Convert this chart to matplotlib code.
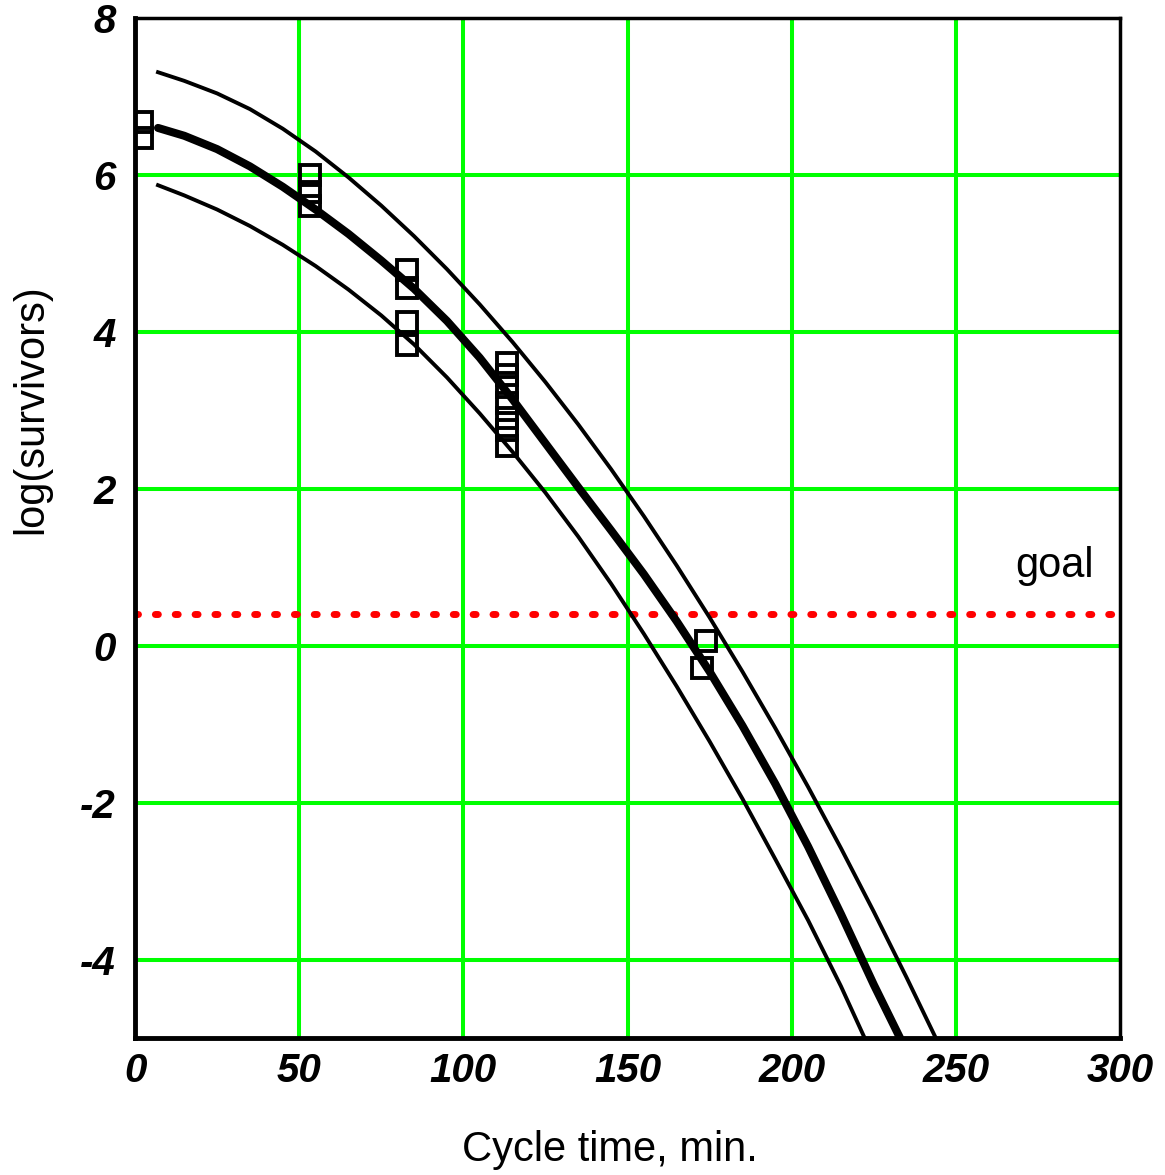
import matplotlib
matplotlib.use("Agg")
import matplotlib.pyplot as plt
from matplotlib import font_manager

# data
# measured survivors (time in min, log survivors)
pointTimes = [2.1, 2.1, 53.3, 53.3, 53.3, 82.9, 82.9, 82.9, 82.9,
              113.3, 113.3, 113.3, 113.3, 113.3, 113.3, 113.3, 174.0, 172.7]
pointLogs = [6.67, 6.47, 6.0, 5.78, 5.6, 4.79, 4.56, 4.13, 3.83,
             3.6, 3.45, 3.3, 3.1, 2.9, 2.75, 2.55, 0.06, -0.29]

# fitted curve
fitTimes = [7, 15, 25, 35, 45, 55, 65, 75, 85, 95, 105, 115, 125, 135, 145,
            155, 165, 175, 185, 195, 205, 215, 225, 233]
fitLogs = [6.6, 6.5, 6.33, 6.11, 5.85, 5.56, 5.25, 4.91, 4.55, 4.14, 3.67,
           3.14, 2.58, 2.02, 1.47, 0.91, 0.31, -0.33, -1.02, -1.76, -2.56,
           -3.42, -4.32, -5.0]

# upper confidence band
upperTimes = [7, 15, 25, 35, 45, 55, 65, 75, 85, 95, 105, 115, 125, 135, 145,
              155, 165, 175, 185, 195, 205, 215, 225, 235, 244]
upperLogs = [7.31, 7.2, 7.04, 6.84, 6.59, 6.3, 5.97, 5.61, 5.22, 4.8, 4.35,
             3.87, 3.36, 2.82, 2.25, 1.65, 1.02, 0.36, -0.33, -1.05, -1.8,
             -2.58, -3.39, -4.23, -5.01]

# lower confidence band
lowerTimes = [7, 15, 25, 35, 45, 55, 65, 75, 85, 95, 105, 115, 125, 135, 145,
              155, 165, 175, 185, 195, 205, 215, 222]
lowerLogs = [5.87, 5.74, 5.56, 5.35, 5.11, 4.84, 4.54, 4.21, 3.84, 3.42, 2.96,
             2.47, 1.95, 1.39, 0.79, 0.15, -0.52, -1.22, -1.95, -2.72, -3.5,
             -4.34, -4.98]

goalLevel = 0.4
xTicks = [0, 50, 100, 150, 200, 250, 300]
yTicks = [-4, -2, 0, 2, 4, 6, 8]


def pickTickFont():
    """ Narrow face if the system has it, else plain Liberation Sans.
    """
    try:
        font_manager.findfont("Liberation Sans Narrow",
                              fallback_to_default=False)
        return "Liberation Sans Narrow", 35
    except ValueError:
        return "Liberation Sans", 29


tickFamily, tickSize = pickTickFont()

fig = plt.figure(figsize=(11.65, 11.75), dpi=100)
ax = fig.add_axes([0.1159, 0.1166, 0.8455, 0.868])

green = "#00ff00"
for xv in xTicks[1:-1]:
    ax.axvline(xv, color=green, lw=2.9, zorder=1)
for yv in yTicks[:-1]:
    ax.axhline(yv, color=green, lw=2.9, zorder=1)

ax.axhline(goalLevel, color="#ff0000", lw=5, dashes=(0.43, 2.43),
           dash_capstyle="round", zorder=2)

ax.plot(upperTimes, upperLogs, color="black", lw=2.8, zorder=3,
        solid_joinstyle="round")
ax.plot(lowerTimes, lowerLogs, color="black", lw=2.8, zorder=3,
        solid_joinstyle="round")
ax.plot(fitTimes, fitLogs, color="black", lw=5.8, zorder=3,
        solid_capstyle="round", solid_joinstyle="round")
ax.plot(pointTimes, pointLogs, linestyle="none", marker="s",
        markersize=14.5, markerfacecolor="none", markeredgecolor="black",
        markeredgewidth=2.8, zorder=4)

ax.text(280, 1.02, "goal", fontsize=30, family="Liberation Sans",
        ha="center", va="center")

ax.set_xlim(0, 300)
ax.set_ylim(-5, 8)
ax.set_xticks(xTicks)
ax.set_yticks(yTicks)
ax.set_xticklabels([str(t) for t in xTicks])
ax.set_yticklabels([str(t) for t in yTicks])
ax.tick_params(length=0)
ax.tick_params(axis="x", pad=10)
ax.tick_params(axis="y", pad=14)
for lab in ax.get_xticklabels() + ax.get_yticklabels():
    lab.set_family(tickFamily)
    lab.set_fontsize(tickSize)
    lab.set_fontweight("bold")
    lab.set_fontstyle("italic")

for side in ["left", "bottom"]:
    ax.spines[side].set_linewidth(3.5)
for side in ["top", "right"]:
    ax.spines[side].set_linewidth(2.5)

ax.set_xlabel("Cycle time, min.", fontsize=30, family="Liberation Sans")
ax.set_ylabel("log(survivors)", fontsize=30, family="Liberation Sans")
ax.xaxis.set_label_coords(0.482, -0.11)
ax.xaxis.label.set_va("center")
ax.yaxis.set_label_coords(-0.105, 0.617)
ax.yaxis.label.set_va("center")

fig.savefig("out.png", dpi=100)
